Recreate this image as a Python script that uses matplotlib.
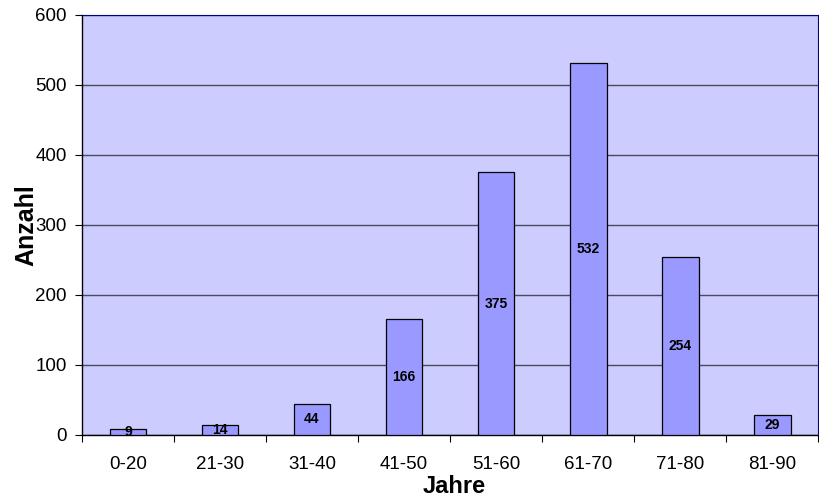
import matplotlib
matplotlib.use("Agg")
import matplotlib.pyplot as plt
import numpy as np

# age groups and counts
groups = ['0-20', '21-30', '31-40', '41-50', '51-60', '61-70', '71-80', '81-90']
counts = [9, 14, 44, 166, 375, 532, 254, 29]

plt.rcParams['font.family'] = ['Liberation Sans', 'DejaVu Sans']

fig = plt.figure(figsize=(8.19, 4.97), dpi=100)
ax = fig.add_axes([0.1, 0.125, 0.899, 0.845])
ax.set_facecolor('#CCCCFF')

x = np.arange(len(groups))
bars = ax.bar(x, counts, width=0.4, color='#9999FF', edgecolor='black', linewidth=0.9, zorder=3)

# value labels in the middle of each bar
for xi, v in zip(x, counts):
    ax.text(xi, v / 2, str(v), ha='center', va='center', fontsize=10, fontweight='bold', zorder=4)

ax.set_xlim(-0.5, len(groups) - 0.5)
ax.set_ylim(0, 600)
ax.set_yticks(range(0, 601, 100))
ax.yaxis.grid(True, color='#4a4a5a', linewidth=1, zorder=1)
ax.set_axisbelow(True)

# category labels centred, tick marks on the boundaries
ax.set_xticks(x)
ax.set_xticklabels(groups, fontsize=13.5)
ax.tick_params(axis='x', which='major', length=0, pad=15)
ax.set_xticks(np.arange(-0.5, len(groups), 1), minor=True)
ax.tick_params(axis='x', which='minor', length=5, width=0.8, direction='out')
ax.tick_params(axis='y', length=5, width=0.8, labelsize=13.5, pad=6)

for side in ['top', 'right']:
    ax.spines[side].set_color('#000080')
    ax.spines[side].set_linewidth(0.8)
ax.spines['left'].set_linewidth(1)
ax.spines['bottom'].set_linewidth(1)

ax.set_xlabel('Jahre', fontsize=17, fontweight='bold')
ax.xaxis.label.set_va('center')
ax.xaxis.set_label_coords(0.506, -0.122)
ax.set_ylabel('Anzahl', fontsize=18, fontweight='bold', labelpad=-2)

fig.savefig('out.png', dpi=100)
